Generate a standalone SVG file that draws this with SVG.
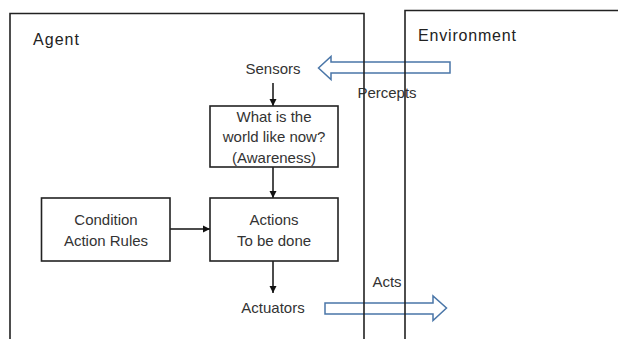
<svg xmlns="http://www.w3.org/2000/svg" width="618" height="339" viewBox="0 0 618 339">
<defs>
<marker id="ah" markerWidth="8" markerHeight="8" refX="7" refY="4" orient="auto" markerUnits="userSpaceOnUse">
<path d="M0,0.5 L7,4 L0,7.5 Z" fill="#111"/>
</marker>
</defs>
<style>
.frame{fill:none;stroke:#222;stroke-width:1.6}
.box{fill:#fff;stroke:#222;stroke-width:1.6}
.t{font-family:"Liberation Sans",Arial,sans-serif;font-size:15px;fill:#333;text-anchor:middle}
.lbl{font-family:"Liberation Sans",Arial,sans-serif;font-size:16px;fill:#222}
.con{stroke:#111;stroke-width:1.5;fill:none;marker-end:url(#ah)}
.big{fill:#fff;stroke:#4a76a8;stroke-width:1.5}
</style>
<rect width="618" height="339" fill="#fff"/>
<g id="connectors">
<line class="con" x1="273" y1="83" x2="273" y2="106"/>
<line class="con" x1="273" y1="167" x2="273" y2="198"/>
<line class="con" x1="170" y1="229" x2="210" y2="229"/>
<line class="con" x1="273" y1="261" x2="273" y2="293"/>
<path class="big" d="M450,62 V73 H331 V79.5 L318.5,68 L331,56.5 V62 Z"/>
<text class="t" x="387" y="98">Percepts</text>
<path class="big" d="M325,303 H433 V296 L446.5,308 L433,320.5 V314 H325 Z"/>
<text class="t" x="387" y="287">Acts</text>
</g>
<g id="agent">
<path class="frame" d="M10,345 V13.5 H364 V345"/>
<text class="lbl" x="33" y="45" textLength="46">Agent</text>
</g>
<g id="environment">
<path class="frame" d="M405,345 V10.5 H625"/>
<text class="lbl" x="418" y="41" textLength="98">Environment</text>
</g>
<g id="sensors"><text class="t" x="273" y="74">Sensors</text></g>
<g id="awareness">
<rect class="box" x="210" y="106" width="128" height="61"/>
<text class="t" x="274" y="122">What is the</text>
<text class="t" x="274" y="142">world like now?</text>
<text class="t" x="274" y="163">(Awareness)</text>
</g>
<g id="condition">
<rect class="box" x="41.5" y="198" width="128.5" height="63"/>
<text class="t" x="106" y="225">Condition</text>
<text class="t" x="106" y="246">Action Rules</text>
</g>
<g id="actions">
<rect class="box" x="210" y="198" width="128" height="63"/>
<text class="t" x="274" y="225">Actions</text>
<text class="t" x="274" y="246">To be done</text>
</g>
<g id="actuators"><text class="t" x="273" y="313">Actuators</text></g>
</svg>
